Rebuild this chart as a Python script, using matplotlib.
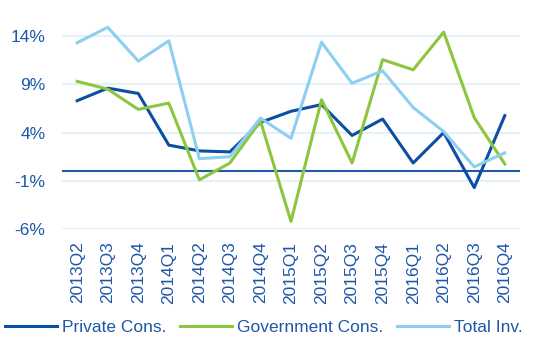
import matplotlib.pyplot as plt

plt.rcParams['font.family'] = ['Liberation Sans', 'DejaVu Sans']

quarters = ["2013Q2", "2013Q3", "2013Q4", "2014Q1", "2014Q2", "2014Q3", "2014Q4",
            "2015Q1", "2015Q2", "2015Q3", "2015Q4", "2016Q1", "2016Q2", "2016Q3", "2016Q4"]
private_cons = [7.3, 8.6, 8.05, 2.7, 2.1, 2.0, 5.05, 6.2, 6.9, 3.7, 5.4, 0.85, 4.0, -1.7, 5.75]
government_cons = [9.3, 8.5, 6.4, 7.05, -0.9, 0.85, 5.2, -5.2, 7.4, 0.85, 11.55, 10.5, 14.4, 5.55, 0.75]
total_inv = [13.3, 14.9, 11.4, 13.5, 1.3, 1.5, 5.5, 3.4, 13.35, 9.1, 10.4, 6.6, 4.1, 0.45, 1.9]
y_ticks = [-6, -1, 4, 9, 14]

text_col = "#1f56a8"

fig = plt.figure(figsize=(5.48, 3.40), dpi=100)
ax = fig.add_axes([0.113, 0.326, 0.836, 0.625])

x = list(range(len(quarters)))
ax.plot(x, private_cons, color="#0b4ea2", lw=2.2, label="Private Cons.")
ax.plot(x, government_cons, color="#8cc63f", lw=2.2, label="Government Cons.")
ax.plot(x, total_inv, color="#8ccff0", lw=2.2, label="Total Inv.")
ax.axhline(0, color="#1f5aa6", lw=1.5, zorder=1)

ax.set_xlim(-0.5, len(quarters) - 0.5)
ax.set_ylim(-6, 16)
ax.set_yticks(y_ticks)
ax.set_yticklabels([f"{t}%" for t in y_ticks])
ax.set_xticks(x)
ax.set_xticklabels(quarters, rotation=90)
ax.grid(axis="y", color="#e4f1fb", lw=1.5)
ax.set_axisbelow(True)
for s in ax.spines.values():
    s.set_visible(False)
ax.tick_params(length=0, colors=text_col, labelsize=12.5)
ax.tick_params(axis="y", pad=12)
ax.tick_params(axis="x", pad=9)

fig.legend(loc="lower left", ncol=3, frameon=False, bbox_to_anchor=(0.0, 0.0),
           borderaxespad=0.1, borderpad=0.2,
           handlelength=3.0, columnspacing=0.75, handletextpad=0.3,
           prop={"size": 12.5}, labelcolor=text_col)

fig.savefig("out.png", dpi=100)
